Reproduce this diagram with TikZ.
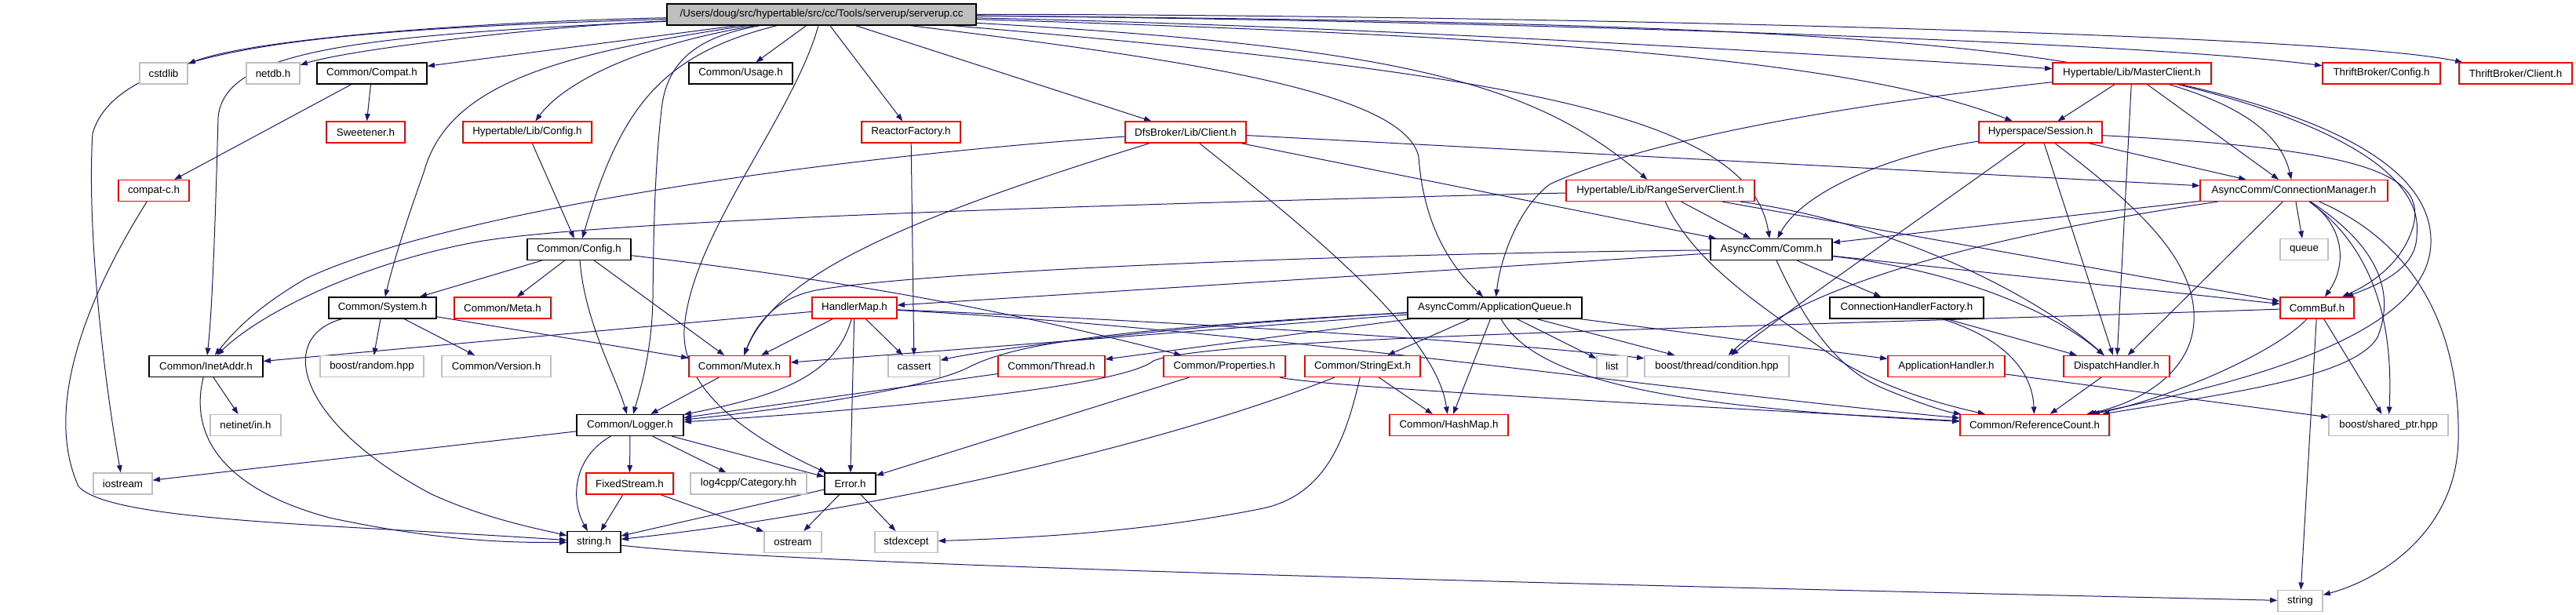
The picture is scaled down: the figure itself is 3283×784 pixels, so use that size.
\documentclass[tikz,border=0pt]{standalone}
\usepackage{fontspec}
\setmainfont{Liberation Sans}
\usetikzlibrary{arrows.meta}
\pgfdeclarelayer{background}
\pgfsetlayers{background,main}
\definecolor{edgec}{HTML}{191970}
\definecolor{grayline}{HTML}{BFBFBF}
\definecolor{rootfill}{HTML}{BFBFBF}
\begin{document}
\begin{tikzpicture}[x=0.75pt,y=-0.75pt,
  nbox/.style={rectangle, inner sep=0pt, minimum height=20.25pt, line width=0.9pt, fill=white, font=\fontsize{10}{12}\selectfont},
  bk/.style={nbox, draw=black},
  rd/.style={nbox, draw=red},
  gy/.style={nbox, draw=grayline},
  bw/.style={minimum width=#1*0.75pt},
  edg/.style={draw=edgec, line width=0.75pt, -{Triangle[length=7pt,width=5pt]}}]
\useasboundingbox (0,0) rectangle (3283,784);
% nodes
\node[bk,fill=rootfill,bw=394] (root) at (1047,18.5) {/Users/doug/src/hypertable/src/cc/Tools/serverup/serverup.cc};
\node[gy,bw=61] (cstdlib) at (208.5,93.5) {cstdlib};
\node[gy,bw=68] (netdb) at (348,93.5) {netdb.h};
\node[bk,bw=140] (compat) at (474,93.5) {Common/Compat.h};
\node[bk,bw=132] (usage) at (944,93.5) {Common/Usage.h};
\node[rd,bw=202] (master) at (2717,93.5) {Hypertable/Lib/MasterClient.h};
\node[rd,bw=150] (tconfig) at (3035,93.5) {ThriftBroker/Config.h};
\node[rd,bw=144] (tclient) at (3206,93.5) {ThriftBroker/Client.h};
\node[rd,bw=100] (sweet) at (466,168.5) {Sweetener.h};
\node[rd,bw=164] (hlconfig) at (672,168.5) {Hypertable/Lib/Config.h};
\node[rd,bw=126] (reactor) at (1161,168.5) {ReactorFactory.h};
\node[rd,bw=154] (dfs) at (1511,168.5) {DfsBroker/Lib/Client.h};
\node[rd,bw=157] (session) at (2600.5,168.5) {Hyperspace/Session.h};
\node[rd,bw=90] (compatc) at (196,243) {compat-c.h};
\node[rd,bw=240] (rsclient) at (2116,243) {Hypertable/Lib/RangeServerClient.h};
\node[rd,bw=239] (connmgr) at (2923.5,243) {AsyncComm/ConnectionManager.h};
\node[bk,bw=132] (cconfig) at (738,318) {Common/Config.h};
\node[bk,bw=155] (comm) at (2257.5,318) {AsyncComm/Comm.h};
\node[gy,bw=61] (queue) at (2936.5,318) {queue};
\node[bk,bw=137] (system) at (487.5,392.5) {Common/System.h};
\node[rd,bw=123] (meta) at (640.5,392.5) {Common/Meta.h};
\node[rd,bw=108] (handlermap) at (1089,392.5) {HandlerMap.h};
\node[bk,bw=222] (appqueue) at (1905,392.5) {AsyncComm/ApplicationQueue.h};
\node[bk,bw=196] (connhf) at (2430,392.5) {ConnectionHandlerFactory.h};
\node[rd,bw=94] (commbuf) at (2953,392.5) {CommBuf.h};
\node[bk,bw=145] (inetaddr) at (262.5,467) {Common/InetAddr.h};
\node[gy,bw=132] (random) at (474,467) {boost/random.hpp};
\node[gy,bw=139] (version) at (632.5,467) {Common/Version.h};
\node[rd,bw=129] (mutex) at (942.5,467) {Common/Mutex.h};
\node[gy,bw=66] (cassert) at (1165,467) {cassert};
\node[rd,bw=136] (thread) at (1340,467) {Common/Thread.h};
\node[rd,bw=155] (properties) at (1560.5,467) {Common/Properties.h};
\node[rd,bw=147] (stringext) at (1736.5,467) {Common/StringExt.h};
\node[gy,bw=39] (list) at (2054.5,467) {list};
\node[gy,bw=184] (condition) at (2188,467) {boost/thread/condition.hpp};
\node[rd,bw=149] (apphandler) at (2480.5,467) {ApplicationHandler.h};
\node[rd,bw=135] (dispatch) at (2697.5,467) {DispatchHandler.h};
\node[gy,bw=90] (netinet) at (313,542) {netinet/in.h};
\node[bk,bw=136] (logger) at (803,542) {Common/Logger.h};
\node[rd,bw=151] (hashmap) at (1846.5,542) {Common/HashMap.h};
\node[rd,bw=190] (refcount) at (2593,542) {Common/ReferenceCount.h};
\node[gy,bw=152] (sharedptr) at (3044,542) {boost/shared\_ptr.hpp};
\node[gy,bw=75] (iostream) at (156.5,616.5) {iostream};
\node[rd,bw=111] (fixedstream) at (802.5,616.5) {FixedStream.h};
\node[gy,bw=148] (log4cpp) at (954,616.5) {log4cpp/Category.hh};
\node[bk,bw=65] (error) at (1083.5,616.5) {Error.h};
\node[bk,bw=68] (stringh) at (757,691) {string.h};
\node[gy,bw=73] (ostream) at (1010.5,691) {ostream};
\node[gy,bw=80] (stdexcept) at (1155,691) {stdexcept};
\node[gy,bw=57] (string) at (2931.5,766) {string};
\begin{pgfonlayer}{background}
\fill[white] (0,0) rectangle (3283,784);
% root
\draw[edg] (root) .. controls (600,28) and (320,50) .. (cstdlib);
\draw[edg] (root) .. controls (700,33) and (450,62) .. (netdb);
\draw[edg] (root) .. controls (400,38) and (150,60) .. (118,170) .. controls (110,300) and (135,500) .. (iostream);
\draw[edg] (root) .. controls (450,45) and (285,65) .. (278,150) .. controls (274,300) and (270,400) .. (inetaddr);
\draw[edg] (root) -- (compat);
\draw[edg] (root) -- (usage);
\draw[edg] (root) .. controls (800,60) and (715,110) .. (hlconfig);
\draw[edg] (root) .. controls (700,70) and (570,110) .. (540,220) .. controls (515,290) and (500,340) .. (system);
\draw[edg] (root) .. controls (840,70) and (790,140) .. (cconfig);
\draw[edg] (root) .. controls (900,45) and (850,70) .. (843,140) .. controls (834,220) and (833,300) .. (832,380) .. controls (831,450) and (815,500) .. (logger);
\draw[edg] (root) .. controls (1010,150) and (880,300) .. (872,420) .. controls (868,500) and (960,560) .. (error);
\draw[edg] (root) -- (reactor);
\draw[edg] (root) -- (dfs);
\draw[edg] (root) .. controls (1500,75) and (1790,115) .. (1808,200) .. controls (1815,300) and (1860,350) .. (appqueue);
\draw[edg] (root) .. controls (1800,60) and (1960,110) .. (rsclient);
\draw[edg] (root) .. controls (1950,95) and (2230,150) .. (comm);
\draw[edg] (root) .. controls (1900,45) and (2350,70) .. (session);
\draw[edg] (root) .. controls (1800,35) and (2400,75) .. (master);
\draw[edg] (root) .. controls (1800,25) and (2700,50) .. (tconfig);
\draw[edg] (root) .. controls (1800,18) and (2950,40) .. (tclient);
\draw[edg] (root) .. controls (2400,30) and (2880,55) .. (connmgr);
% compat
\draw[edg] (compat) -- (sweet);
\draw[edg] (compat) -- (compatc);
\draw[edg] (compatc) .. controls (110,380) and (55,520) .. (100,620) .. controls (140,665) and (420,668) .. (stringh);
\draw[edg] (hlconfig) -- (cconfig);
\draw[edg] (reactor) -- (cassert);
% dfs
\draw[edg] (dfs) .. controls (1000,205) and (560,275) .. (390,355) .. controls (330,390) and (300,420) .. (inetaddr);
\draw[edg] (dfs) .. controls (1150,280) and (990,350) .. (mutex);
\draw[edg] (dfs) .. controls (1650,280) and (1830,420) .. (hashmap);
\draw[edg] (dfs) -- (comm);
\draw[edg] (dfs) -- (connmgr);
% master
\draw[edg] (master) -- (session);
\draw[edg] (master) .. controls (2250,145) and (2060,195) .. (1975,235) .. controls (1935,265) and (1912,330) .. (appqueue);
\draw[edg] (master) -- (dispatch);
\draw[edg] (master) -- (connmgr);
\draw[edg] (master) .. controls (2950,150) and (3090,215) .. (3080,300) .. controls (3080,345) and (3025,365) .. (commbuf);
\draw[edg] (master) .. controls (3010,160) and (3100,230) .. (3098,310) .. controls (3095,430) and (2850,490) .. (refcount);
% session
\draw[edg] (session) .. controls (2420,195) and (2300,240) .. (comm);
\draw[edg] (session) .. controls (2460,270) and (2300,380) .. (condition);
\draw[edg] (session) -- (dispatch);
\draw[edg] (session) .. controls (2720,260) and (2800,330) .. (2796,410) .. controls (2792,480) and (2720,515) .. (refcount);
\draw[edg] (session) -- (connmgr);
\draw[edg] (session) .. controls (3010,190) and (3095,220) .. (3075,290) .. controls (3060,340) and (3015,365) .. (commbuf);
% rsclient
\draw[edg] (rsclient) .. controls (1350,262) and (760,282) .. (610,308) .. controls (460,335) and (330,400) .. (inetaddr);
\draw[edg] (rsclient) -- (comm);
\draw[edg] (rsclient) .. controls (2160,340) and (2260,400) .. (2330,450) .. controls (2380,485) and (2450,510) .. (refcount);
\draw[edg] (rsclient) .. controls (2420,285) and (2600,380) .. (dispatch);
\draw[edg] (rsclient) -- (commbuf);
% connmgr
\draw[edg] (connmgr) -- (comm);
\draw[edg] (connmgr) .. controls (2600,290) and (2310,350) .. (condition);
\draw[edg] (connmgr) -- (queue);
\draw[edg] (connmgr) -- (dispatch);
\draw[edg] (connmgr) .. controls (2990,290) and (2990,340) .. (commbuf);
\draw[edg] (connmgr) .. controls (3030,320) and (3050,420) .. (sharedptr);
\draw[edg] (connmgr) .. controls (3100,320) and (3135,450) .. (3133,560) .. controls (3131,680) and (3030,740) .. (string);
\draw[edg] (connmgr) .. controls (3040,320) and (3050,380) .. (3030,430) .. controls (3000,480) and (2850,500) .. (refcount);
% cconfig
\draw[edg] (cconfig) -- (system);
\draw[edg] (cconfig) -- (meta);
\draw[edg] (cconfig) .. controls (745,410) and (785,480) .. (logger);
\draw[edg] (cconfig) -- (mutex);
\draw[edg] (cconfig) .. controls (1100,360) and (1300,400) .. (properties);
% comm
\draw[edg] (comm) -- (handlermap);
\draw[edg] (comm) .. controls (1600,325) and (1150,350) .. (1040,370) .. controls (990,380) and (965,410) .. (mutex);
\draw[edg] (comm) -- (connhf);
\draw[edg] (comm) .. controls (2500,345) and (2620,400) .. (dispatch);
\draw[edg] (comm) -- (commbuf);
\draw[edg] (comm) .. controls (2300,410) and (2340,470) .. (2400,495) .. controls (2440,512) and (2480,525) .. (refcount);
% system
\draw[edg] (system) .. controls (350,430) and (380,540) .. (550,630) .. controls (620,662) and (690,675) .. (stringh);
\draw[edg] (system) -- (random);
\draw[edg] (system) -- (version);
\draw[edg] (system) -- (mutex);
% handlermap
\draw[edg] (handlermap) -- (inetaddr);
\draw[edg] (handlermap) -- (mutex);
\draw[edg] (handlermap) -- (cassert);
\draw[edg] (handlermap) .. controls (1065,480) and (990,505) .. (logger);
\draw[edg] (handlermap) -- (error);
\draw[edg] (handlermap) .. controls (1500,410) and (1900,435) .. (condition);
\draw[edg] (handlermap) .. controls (1600,420) and (2100,495) .. (refcount);
% appqueue
\draw[edg] (appqueue) -- (mutex);
\draw[edg] (appqueue) .. controls (1500,415) and (1260,445) .. (cassert);
\draw[edg] (appqueue) -- (thread);
\draw[edg] (appqueue) .. controls (1400,420) and (1290,440) .. (1235,468) .. controls (1180,496) and (1000,522) .. (logger);
\draw[edg] (appqueue) -- (stringext);
\draw[edg] (appqueue) -- (hashmap);
\draw[edg] (appqueue) -- (list);
\draw[edg] (appqueue) -- (condition);
\draw[edg] (appqueue) .. controls (1960,490) and (2150,520) .. (refcount);
\draw[edg] (appqueue) -- (apphandler);
% connhf
\draw[edg] (connhf) -- (dispatch);
\draw[edg] (connhf) .. controls (2550,430) and (2590,470) .. (refcount);
% commbuf
\draw[edg] (commbuf) .. controls (2200,418) and (1540,430) .. (1470,460) .. controls (1420,500) and (1000,530) .. (logger);
\draw[edg] (commbuf) .. controls (2900,450) and (2760,510) .. (refcount);
\draw[edg] (commbuf) -- (string);
\draw[edg] (commbuf) -- (sharedptr);
% inetaddr
\draw[edg] (inetaddr) -- (netinet);
\draw[edg] (inetaddr) .. controls (240,560) and (290,625) .. (420,660) .. controls (560,690) and (650,692) .. (stringh);
% others
\draw[edg] (mutex) -- (logger);
\draw[edg] (thread) -- (logger);
\draw[edg] (properties) -- (error);
\draw[edg] (properties) .. controls (1700,495) and (2200,520) .. (refcount);
\draw[edg] (stringext) -- (hashmap);
\draw[edg] (stringext) .. controls (1450,580) and (1050,660) .. (stringh);
\draw[edg] (stringext) .. controls (1715,560) and (1690,630) .. (1610,648) .. controls (1450,680) and (1300,686) .. (stdexcept);
\draw[edg] (logger) -- (iostream);
\draw[edg] (logger) .. controls (728,585) and (728,640) .. (stringh);
\draw[edg] (logger) -- (fixedstream);
\draw[edg] (logger) -- (log4cpp);
\draw[edg] (logger) -- (error);
\draw[edg] (fixedstream) -- (stringh);
\draw[edg] (fixedstream) -- (ostream);
\draw[edg] (error) -- (stringh);
\draw[edg] (error) -- (ostream);
\draw[edg] (error) -- (stdexcept);
\draw[edg] (stringh) .. controls (1000,720) and (2000,745) .. (string);
\draw[edg] (apphandler) -- (sharedptr);
\draw[edg] (dispatch) -- (refcount);
\end{pgfonlayer}
\end{tikzpicture}
\end{document}
